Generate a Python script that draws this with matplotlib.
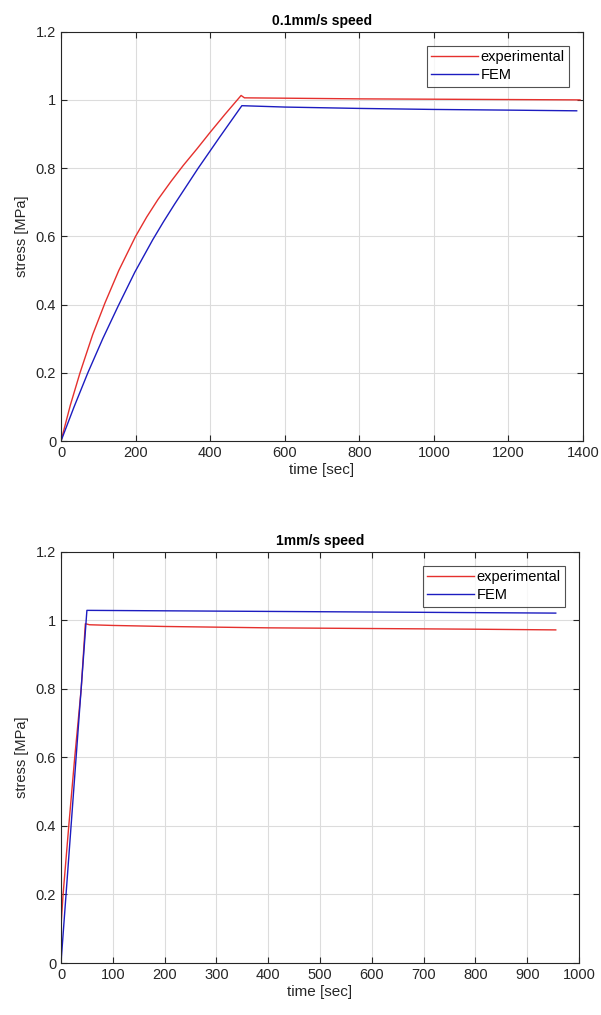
import numpy as np
import matplotlib
matplotlib.use("Agg")
import matplotlib.pyplot as plt
from matplotlib.ticker import FuncFormatter

plt.rcParams['font.family'] = ['Liberation Sans', 'DejaVu Sans']

# ------------------------------------------------------------
# Data
# ------------------------------------------------------------
# 0.1 mm/s speed
slow_exp_t = [0, 25, 51, 85, 118, 155, 200, 230, 260, 295, 328, 365, 400, 440, 483,
              492, 600, 800, 1000, 1200, 1392]
slow_exp_s = [0, 0.105, 0.2, 0.312, 0.405, 0.50, 0.600, 0.657, 0.708, 0.761, 0.808, 0.857, 0.905, 0.958, 1.013,
              1.006, 1.005, 1.003, 1.002, 1.001, 1.0]
slow_fem_t = [0, 35, 72, 112, 153, 198, 246, 275, 305, 368, 425, 485, 600, 800, 1000, 1200, 1383]
slow_fem_s = [0, 0.1, 0.2, 0.3, 0.395, 0.495, 0.59, 0.643, 0.695, 0.8, 0.89, 0.983, 0.979, 0.975, 0.972, 0.970, 0.968]

# 1 mm/s speed
fast_exp_t = [0, 0.5, 4, 15, 26.5, 39, 47, 55, 100, 200, 400, 600, 800, 955]
fast_exp_s = [0, 0.12, 0.2, 0.4, 0.6, 0.8, 0.99, 0.987, 0.985, 0.982, 0.978, 0.976, 0.974, 0.972]
fast_fem_t = [0, 50, 955]
fast_fem_s = [0, 1.029, 1.021]

panels = [
    ("0.1mm/s speed", slow_exp_t, slow_exp_s, slow_fem_t, slow_fem_s, 1400, 200),
    ("1mm/s speed", fast_exp_t, fast_exp_s, fast_fem_t, fast_fem_s, 1000, 100),
]

# ------------------------------------------------------------
# Figure
# ------------------------------------------------------------
fig = plt.figure(figsize=(6.01, 10.15), dpi=100)
rects = [
    [0.1015, 0.5655, 0.8686, 0.4033],
    [0.1015, 0.0512, 0.8620, 0.4052],
]

for rect, (title, et, es, ft, fs, xmax, xstep) in zip(rects, panels):
    ax = fig.add_axes(rect)
    ax.plot(et, es, color='#e5302d', linewidth=1.0, label='experimental')
    ax.plot(ft, fs, color='#1c1cc0', linewidth=1.0, label='FEM')

    ax.set_xlim(0, xmax)
    ax.set_ylim(0, 1.2)
    ax.set_xticks(np.arange(0, xmax + 1, xstep))
    ax.set_yticks(np.arange(0, 1.21, 0.2))
    ax.yaxis.set_major_formatter(FuncFormatter(lambda v, p: f"{v:g}"))

    ax.grid(True, color='#dcdcdc', linewidth=0.8)
    ax.set_axisbelow(True)
    ax.tick_params(direction='in', top=True, right=True, labelsize=10.5,
                   colors='#262626', length=4, width=0.8)
    for sp in ax.spines.values():
        sp.set_color('#262626')
        sp.set_linewidth(0.8)

    ax.set_title(title, fontsize=10, fontweight='bold', pad=5)
    ax.set_xlabel("time [sec]", fontsize=11, color='#262626', labelpad=2)
    ax.set_ylabel("stress [MPa]", fontsize=10.5, color='#262626', labelpad=5)

    leg = ax.legend(loc='upper right', fontsize=10.5, frameon=True, fancybox=False,
                    edgecolor='#262626', borderaxespad=0.95, handlelength=3.2,
                    handletextpad=0.2, borderpad=0.3, labelspacing=0.3)
    leg.get_frame().set_linewidth(0.8)

fig.savefig("out.png", dpi=100, facecolor='white')
